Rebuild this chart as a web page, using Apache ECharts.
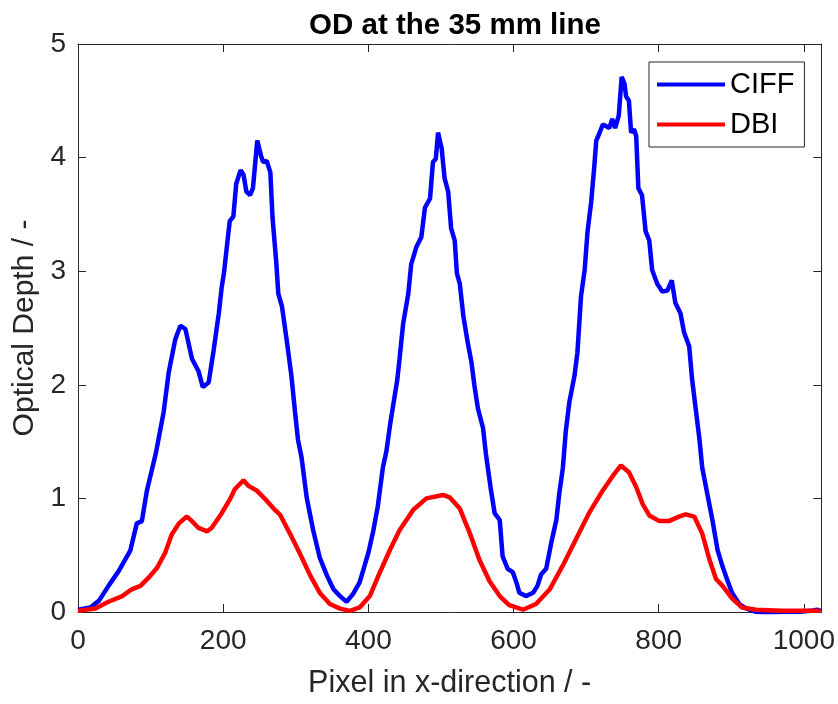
<!DOCTYPE html>
<html>
<head>
<meta charset="utf-8">
<script src="https://cdn.jsdelivr.net/npm/echarts@6/dist/echarts.min.js"></script>
<style>
html,body{margin:0;padding:0;background:#fff;}
#chart{width:838px;height:704px;}
</style>
</head>
<body>
<div id="chart"></div>
<script>
// ---- data ----
var titleText = 'OD at the 35 mm line';
var xName = 'Pixel in x-direction / -';
var yName = 'Optical Depth / -';
var seriesNames = ['CIFF', 'DBI'];
var xTicks = [0, 200, 400, 600, 800, 1000];
var yTicks = [0, 1, 2, 3, 4, 5];

var ciffX = [0,17,29,42,56,72,81,88,95,107,118,125,134,141,148,157,166,172,180,187,194,198,201,205,209,214,218,224,228,232,237,241,247,252,255,260,265,268,273,276,281,288,294,299,303,308,315,324,333,343,352,361,370,379,388,400,407,413,420,425,430,435,440,443,448,455,459,466,473,478,485,489,493,496,501,505,510,514,519,522,526,531,537,542,546,551,558,562,569,574,581,585,592,599,604,608,617,627,633,638,645,652,659,663,668,672,677,684,688,693,698,702,707,711,714,718,723,727,732,736,740,745,749,753,755,759,762,766,769,772,777,782,787,791,798,805,812,818,823,830,835,842,846,851,856,860,867,874,881,888,894,901,911,921,935,950,970,990,1010,1018,1023];
var ciffY = [0.02,0.04,0.10,0.23,0.36,0.54,0.78,0.80,1.07,1.39,1.76,2.11,2.40,2.52,2.49,2.23,2.12,1.98,2.02,2.31,2.63,2.86,2.98,3.21,3.44,3.48,3.77,3.89,3.85,3.70,3.67,3.73,4.15,4.02,3.96,3.97,3.87,3.47,3.09,2.80,2.69,2.37,2.08,1.76,1.52,1.36,1.01,0.72,0.48,0.32,0.20,0.14,0.09,0.16,0.26,0.52,0.72,0.93,1.27,1.42,1.65,1.85,2.05,2.23,2.54,2.80,3.06,3.21,3.30,3.56,3.64,3.96,3.99,4.22,4.08,3.82,3.70,3.38,3.27,2.98,2.89,2.60,2.37,2.20,2.00,1.79,1.62,1.39,1.07,0.87,0.81,0.49,0.38,0.35,0.26,0.17,0.14,0.17,0.23,0.33,0.38,0.61,0.81,1.04,1.27,1.59,1.85,2.08,2.28,2.78,3.01,3.35,3.61,3.90,4.15,4.21,4.29,4.28,4.26,4.34,4.26,4.37,4.71,4.65,4.54,4.50,4.22,4.25,4.19,3.73,3.67,3.35,3.27,3.01,2.89,2.82,2.83,2.92,2.72,2.63,2.46,2.34,2.05,1.79,1.53,1.27,1.04,0.81,0.55,0.40,0.29,0.17,0.07,0.03,0.00,-0.01,0.00,0.00,0.01,0.02,0.01];

var dbiX = [0,24,42,61,74,86,97,109,120,129,139,150,157,166,178,184,198,210,216,228,235,246,260,271,278,292,306,320,333,347,361,375,388,402,416,430,443,462,480,503,512,526,540,553,567,581,594,613,631,650,668,686,704,723,737,748,759,769,778,787,801,814,828,837,849,860,870,879,888,901,915,934,970,1023];
var dbiY = [0.01,0.03,0.09,0.14,0.20,0.23,0.30,0.39,0.52,0.68,0.78,0.84,0.80,0.74,0.71,0.74,0.87,1.00,1.08,1.16,1.11,1.07,0.98,0.90,0.86,0.69,0.51,0.32,0.17,0.07,0.03,0.01,0.04,0.14,0.35,0.55,0.72,0.90,1.00,1.03,1.01,0.91,0.69,0.46,0.27,0.14,0.06,0.02,0.07,0.20,0.41,0.64,0.87,1.07,1.20,1.29,1.23,1.10,0.95,0.85,0.80,0.80,0.84,0.86,0.84,0.69,0.46,0.29,0.23,0.12,0.04,0.02,0.01,0.01];

function pairs(xs, ys){ var out=[]; for(var i=0;i<xs.length;i++) out.push([xs[i], ys[i]]); return out; }

var FONT = '"Liberation Sans", Arial, Helvetica, sans-serif';
var AX = '#262626';

var chart = echarts.init(document.getElementById('chart'), null, {renderer:'canvas'});
function xLabel(v){ return xTicks.indexOf(v) >= 0 ? String(v) : ''; }
function yLabel(v){ return yTicks.indexOf(v) >= 0 ? String(v) : ''; }

var baseX = {
  type:'value', min:0, max:1024, interval:200,
  axisLine:{show:true, onZero:false, lineStyle:{color:AX, width:1}},
  axisTick:{show:true, inside:true, length:8, lineStyle:{color:AX}},
  splitLine:{show:false}
};
var baseY = {
  type:'value', min:0, max:5, interval:1,
  axisLine:{show:true, onZero:false, lineStyle:{color:AX, width:1}},
  axisTick:{show:true, inside:true, length:8, lineStyle:{color:AX}},
  splitLine:{show:false}
};

chart.setOption({
  animation:false,
  backgroundColor:'#fff',
  title:{
    text:titleText, left:450, top:6, textAlign:'center',
    textStyle:{fontFamily:FONT, fontSize:29.5, fontWeight:'bold', color:'#000'}
  },
  grid:{left:78, right:16, top:44, bottom:84, containLabel:false},
  legend:{
    orient:'vertical', left:649, top:62,
    icon:'rect', itemWidth:68, itemHeight:4, itemGap:11,
    padding:[8,10,8,8],
    backgroundColor:'#fff', borderColor:AX, borderWidth:1,
    textStyle:{fontFamily:FONT, fontSize:29, color:'#000'},
    data:seriesNames
  },
  xAxis:[
    Object.assign({}, baseX, {
      position:'bottom',
      name:xName, nameLocation:'middle', nameGap:56,
      nameTextStyle:{fontFamily:FONT, fontSize:30.5, color:AX},
      axisLabel:{show:true, margin:15, fontFamily:FONT, fontSize:28, color:AX, formatter:xLabel}
    }),
    Object.assign({}, baseX, {position:'top', axisLabel:{show:false}})
  ],
  yAxis:[
    Object.assign({}, baseY, {
      position:'left',
      name:yName, nameLocation:'middle', nameGap:32,
      nameTextStyle:{fontFamily:FONT, fontSize:30, color:AX},
      axisLabel:{show:true, margin:12, fontFamily:FONT, fontSize:28, color:AX, formatter:yLabel}
    }),
    Object.assign({}, baseY, {position:'right', axisLabel:{show:false}})
  ],
  series:[
    {name:seriesNames[0], type:'line', data:pairs(ciffX, ciffY), showSymbol:false, symbol:'none',
     lineStyle:{color:'#0000ff', width:4.5}, itemStyle:{color:'#0000ff'}, z:2},
    {name:seriesNames[1], type:'line', data:pairs(dbiX, dbiY), showSymbol:false, symbol:'none',
     lineStyle:{color:'#ff0000', width:4.5}, itemStyle:{color:'#ff0000'}, z:3}
  ]
});
</script>
</body>
</html>
